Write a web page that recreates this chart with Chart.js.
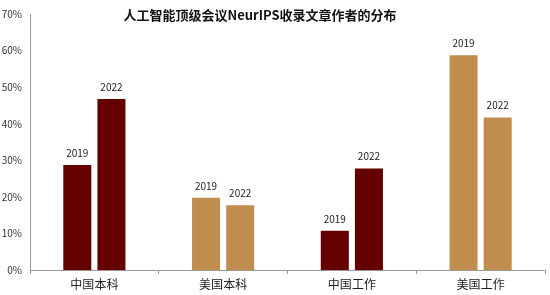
<!DOCTYPE html>
<html>
<head>
<meta charset="utf-8">
<script src="https://cdn.jsdelivr.net/npm/chart.js@4.4.0/dist/chart.umd.min.js"></script>
<style>
  html, body { margin: 0; padding: 0; background: #fff; }
  #wrap { width: 550px; height: 295px; position: relative; }
</style>
</head>
<body>
<div id="wrap"><canvas id="c" width="550" height="295"></canvas></div>
<script>
// data
const categories = ["中国本科", "美国本科", "中国工作", "美国工作"];
const years = ["2019", "2022"];
const values2019 = [29, 20, 11, 59];
const values2022 = [47, 18, 28, 42];
const yTicks = [0, 10, 20, 30, 40, 50, 60, 70];
const titleText = "人工智能顶级会议NeurIPS收录文章作者的分布";

const RED = "#650000";
const TAN = "#C08D4E";
const barColors = [RED, TAN, RED, TAN];
const FONT = "'Noto Sans CJK SC', 'Noto Sans', sans-serif";

// dataset label ("2019" / "2022") above each bar
const barLabels = {
    id: "barLabels",
    afterDatasetsDraw(chart) {
        const ctx = chart.ctx;
        ctx.save();
        ctx.font = "10px " + FONT;
        ctx.fillStyle = "#222";
        ctx.textAlign = "center";
        ctx.textBaseline = "bottom";
        chart.data.datasets.forEach((ds, i) => {
            chart.getDatasetMeta(i).data.forEach(bar => {
                ctx.fillText(ds.label, bar.x, bar.y - 6);
            });
        });
        ctx.restore();
    }
};

const titlePlugin = {
    id: "titlePlugin",
    afterDraw(chart) {
        const ctx = chart.ctx;
        ctx.save();
        ctx.font = "bold 13px " + FONT;
        ctx.fillStyle = "#111";
        ctx.textAlign = "center";
        ctx.textBaseline = "middle";
        ctx.fillText(titleText, 260, 15);
        ctx.restore();
    }
};

new Chart(document.getElementById("c"), {
    type: "bar",
    data: {
        labels: categories,
        datasets: [
            { label: years[0], data: values2019, backgroundColor: barColors, borderColor: "rgba(255,255,255,0.45)", borderWidth: 1 },
            { label: years[1], data: values2022, backgroundColor: barColors, borderColor: "rgba(255,255,255,0.45)", borderWidth: 1 }
        ]
    },
    options: {
        responsive: false,
        animation: false,
        layout: { padding: { top: 10, right: 5, left: 0, bottom: 0 } },
        datasets: { bar: { categoryPercentage: 0.53, barPercentage: 0.88 } },
        plugins: {
            legend: { display: false },
            title: { display: false },
            tooltip: { enabled: false }
        },
        scales: {
            x: {
                grid: { display: true, drawOnChartArea: false, drawTicks: true, tickLength: 4, color: "#999", offset: true },
                border: { color: "#999", width: 1 },
                ticks: { color: "#222", font: { family: FONT, size: 12 }, padding: 3 },
                afterFit(scale) { scale.height = 25; }
            },
            y: {
                min: 0,
                max: 70,
                afterBuildTicks(scale) { scale.ticks = yTicks.map(v => ({ value: v })); },
                grid: { display: false, drawTicks: false, tickLength: 0 },
                border: { color: "#999", width: 1 },
                ticks: { color: "#333", font: { family: FONT, size: 10 }, padding: 8, callback: v => v + "%" },
                afterFit(scale) { scale.width = 30; }
            }
        }
    },
    plugins: [barLabels, titlePlugin]
});
</script>
</body>
</html>
